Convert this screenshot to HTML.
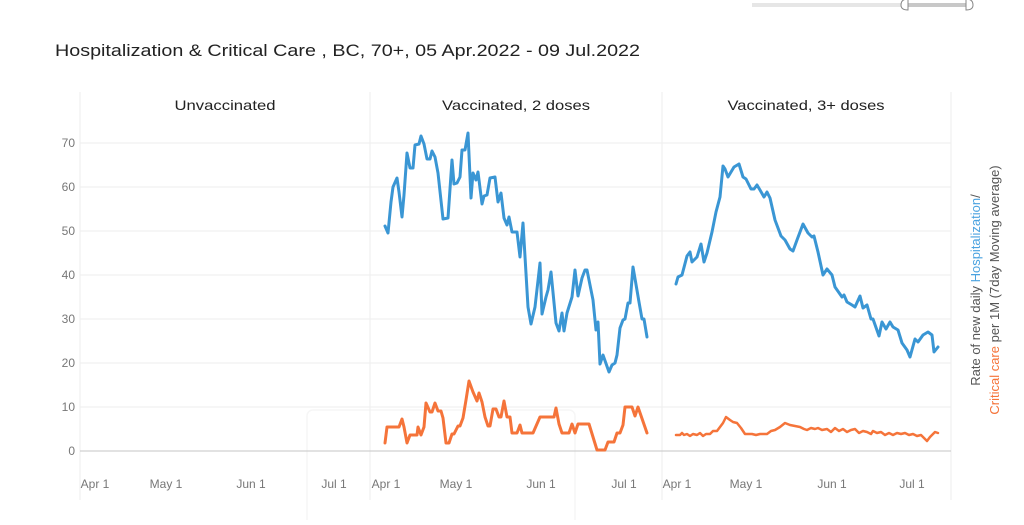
<!DOCTYPE html>
<html><head><meta charset="utf-8"><style>
body{margin:0;background:#fff;width:1024px;height:520px;overflow:hidden;font-family:"Liberation Sans",sans-serif}
</style></head><body>
<svg width="1024" height="520" xmlns="http://www.w3.org/2000/svg" font-family="Liberation Sans, sans-serif">
<rect x="307" y="410" width="268" height="115" rx="6" fill="none" stroke="#f6f6f6" stroke-width="1.5"/>
<line x1="752" y1="5" x2="906" y2="5" stroke="#e6e6e6" stroke-width="4"/>
<line x1="906" y1="5" x2="968" y2="5" stroke="#c8c8c8" stroke-width="4"/>
<path d="M908 -1 Q901 -1 901 5 Q901 10 908 10 Z M966 -1 Q973 -1 973 5 Q973 10 966 10 Z" stroke="#888" fill="#fff"/>
<text x="55" y="56" font-size="17" fill="#222" textLength="585" lengthAdjust="spacingAndGlyphs">Hospitalization &amp; Critical Care , BC, 70+, 05 Apr.2022 - 09 Jul.2022</text>
<g stroke="#eeeeee" stroke-width="1">
<line x1="80" y1="92" x2="80" y2="500"/><line x1="370" y1="92" x2="370" y2="500"/>
<line x1="662" y1="92" x2="662" y2="500"/><line x1="951" y1="92" x2="951" y2="500"/>
<line x1="80" y1="407" x2="951" y2="407"/><line x1="80" y1="363" x2="951" y2="363"/>
<line x1="80" y1="319" x2="951" y2="319"/><line x1="80" y1="275" x2="951" y2="275"/>
<line x1="80" y1="231" x2="951" y2="231"/><line x1="80" y1="187" x2="951" y2="187"/>
<line x1="80" y1="143" x2="951" y2="143"/>
</g>
<line x1="80" y1="451" x2="951" y2="451" stroke="#d0d0d0" stroke-width="1.3"/>
<g font-size="14" fill="#222" text-anchor="middle">
<text x="225" y="110" textLength="101" lengthAdjust="spacingAndGlyphs">Unvaccinated</text>
<text x="516" y="110" textLength="148" lengthAdjust="spacingAndGlyphs">Vaccinated, 2 doses</text>
<text x="806" y="110" textLength="157" lengthAdjust="spacingAndGlyphs">Vaccinated, 3+ doses</text>
</g>
<g font-size="12" fill="#777" text-anchor="end">
<text x="75" y="455">0</text><text x="75" y="411">10</text><text x="75" y="367">20</text><text x="75" y="323">30</text>
<text x="75" y="279">40</text><text x="75" y="235">50</text><text x="75" y="191">60</text><text x="75" y="147">70</text>
</g>
<g font-size="12" fill="#777" text-anchor="middle">
<text x="95" y="488">Apr 1</text><text x="166" y="488">May 1</text><text x="251" y="488">Jun 1</text><text x="334" y="488">Jul 1</text>
<text x="386" y="488">Apr 1</text><text x="456" y="488">May 1</text><text x="541" y="488">Jun 1</text><text x="624" y="488">Jul 1</text>
<text x="677" y="488">Apr 1</text><text x="746" y="488">May 1</text><text x="832" y="488">Jun 1</text><text x="912" y="488">Jul 1</text>
</g>
<g fill="none" stroke-width="3" stroke-linejoin="round" stroke-linecap="round">
<polyline stroke="#3a96d4" points="385,226 388,233 391,202 393,187 397,178 399,192 402,217 404,195 407,153 410,168 413,168 415,145 419,144 421,136 424,144 427,159 430,159 432,151 435,157 438,173 443,219 448,218 452,160 454,184 457,183 460,177 462,150 465,150 468,133 471,198 473,173 476,180 478,172 482,204 484,196 487,195 490,178 495,177 498,202 501,193 504,218 507,225 509,217 512,232 517,232 520,257 523,223 528,307 531,324 535,307 540,263 542,314 546,297 548,290 551,272 556,323 559,331 562,313 564,331 567,313 572,297 575,270 578,296 582,278 585,270 587,270 593,300 596,330 598,322 600,364 603,355 609,372 612,365 615,363 617,355 620,328 623,320 625,319 628,303 630,303 633,267 639,302 642,319 644,319 647,337"/>
<polyline stroke="#3a96d4" points="676,284 678,277 682,275 687,256 690,252 692,262 697,257 701,244 704,262 707,253 712,232 716,212 720,197 723,166 725,169 728,177 734,167 739,164 743,177 746,179 751,189 754,189 757,185 760,190 764,197 767,192 770,198 775,220 781,236 785,240 790,249 793,251 797,240 803,224 808,233 812,237 814,236 818,252 823,275 827,269 832,275 835,287 842,297 844,295 847,302 852,305 855,307 860,296 863,308 867,305 871,319 873,319 879,336 882,322 886,329 890,322 893,327 898,330 902,343 907,350 910,357 915,339 918,342 923,335 928,332 932,335 934,352 938,347"/>
<polyline stroke="#f5743a" points="385,443 387,427 399,427 402,419 404,427 407,443 410,435 417,435 418,427 421,435 424,427 426,403 430,412 432,412 435,403 438,411 441,411 443,418 446,443 449,443 452,434 454,434 458,426 460,426 463,418 466,400 469,381 473,392 477,401 479,393 482,402 485,417 488,426 490,426 493,409 496,409 499,417 501,417 504,401 507,417 510,417 512,433 517,433 520,425 522,433 533,433 540,417 554,417 556,408 559,424 562,433 569,433 572,424 575,433 578,424 589,424 597,450 605,450 608,442 614,442 617,433 620,433 623,425 625,407 632,407 635,416 638,407 647,433"/>
<polyline stroke="#f5743a" stroke-width="2.5" points="676,435 680,435 682,433 684,435 687,434 690,436 693,434 697,435 700,433 703,436 706,434 710,434 713,431 717,431 720,427 723,423 726,417 730,420 733,422 737,423 741,428 745,434 752,434 756,435 760,434 767,434 771,431 775,430 780,427 785,423 790,425 795,426 800,427 804,429 807,430 811,428 815,429 818,428 822,430 827,429 831,432 835,428 839,431 843,429 847,432 851,430 855,429 859,433 863,431 867,432 871,434 873,431 877,433 881,432 885,435 889,433 893,435 897,433 901,434 905,433 909,435 913,434 917,436 921,435 924,438 927,441 930,437 935,432 938,433"/>
</g>
<g transform="translate(980,290) rotate(-90)" font-size="13" text-anchor="middle">
<text x="0" y="0" fill="#555">Rate of new daily <tspan fill="#4ba3e0">Hospitalization</tspan>/</text>
<text x="0" y="19" fill="#555"><tspan fill="#f5743a">Critical care</tspan> per 1M (7day Moving average)</text>
</g>
</svg>
</body></html>
